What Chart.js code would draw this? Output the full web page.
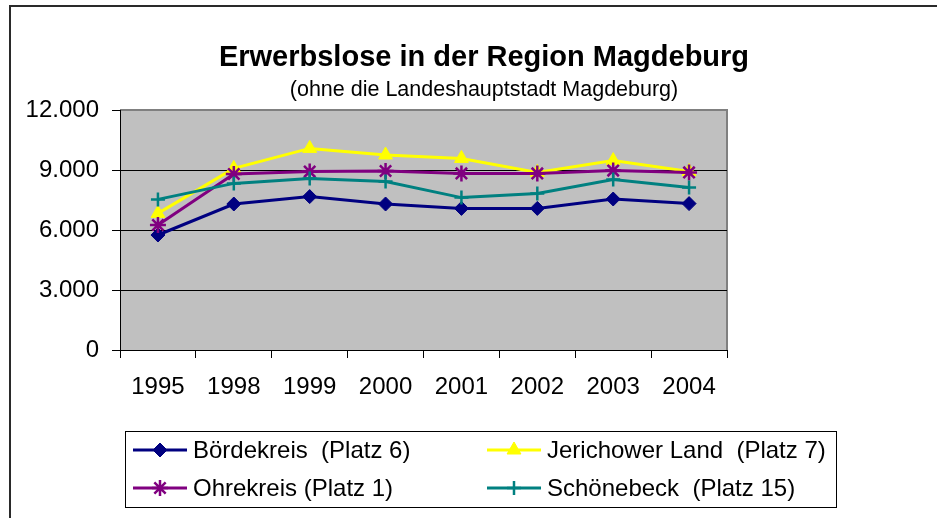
<!DOCTYPE html>
<html>
<head>
<meta charset="utf-8">
<script src="https://cdn.jsdelivr.net/npm/chart.js@4"></script>
<style>
  html, body { margin: 0; padding: 0; background: #ffffff; }
  #wrap { width: 937px; height: 518px; position: relative; }
</style>
</head>
<body>
<div id="wrap"><canvas id="c" width="937" height="518"></canvas></div>
<script>
// ---- data ----
const years = ['1995', '1998', '1999', '2000', '2001', '2002', '2003', '2004'];
const boerdekreis = [5750, 7300, 7670, 7300, 7080, 7080, 7550, 7320];
const jerichowerLand = [6830, 9080, 10080, 9750, 9580, 8880, 9470, 8920];
const ohrekreis = [6250, 8800, 8920, 8950, 8830, 8830, 8970, 8880];
const schoenebeck = [7530, 8330, 8580, 8420, 7620, 7830, 8530, 8130];
const seriesNames = ['Bördekreis  (Platz 6)', 'Jerichower Land  (Platz 7)', 'Ohrekreis (Platz 1)', 'Schönebeck  (Platz 15)'];
const yTicks = [0, 3000, 6000, 9000, 12000];
const titleText = 'Erwerbslose in der Region Magdeburg';
const subtitleText = '(ohne die Landeshauptstadt Magdeburg)';

const FONT = '"Liberation Sans", Arial, sans-serif';

function fmt(v) {
  return String(v).replace(/\B(?=(\d{3})+(?!\d))/g, '.');
}

const decorPlugin = {
  id: 'decor',
  beforeDraw(chart) {
    const ctx = chart.ctx;
    const a = chart.chartArea;
    ctx.save();
    ctx.fillStyle = '#ffffff';
    ctx.fillRect(0, 0, chart.width, chart.height);
    // outer frame (left and top visible)
    ctx.strokeStyle = '#2a2a2a';
    ctx.lineWidth = 2;
    ctx.beginPath();
    ctx.moveTo(10, chart.height);
    ctx.lineTo(10, 6);
    ctx.lineTo(chart.width, 6);
    ctx.stroke();
    // plot area
    ctx.fillStyle = '#c0c0c0';
    ctx.fillRect(a.left, a.top, a.right - a.left, a.bottom - a.top);
    ctx.strokeStyle = '#808080';
    ctx.lineWidth = 2;
    ctx.beginPath();
    ctx.moveTo(a.left, a.top);
    ctx.lineTo(a.right, a.top);
    ctx.lineTo(a.right, a.bottom);
    ctx.stroke();
    // title & subtitle
    ctx.fillStyle = '#000000';
    ctx.textAlign = 'center';
    ctx.textBaseline = 'middle';
    ctx.font = 'bold 29px ' + FONT;
    ctx.fillText(titleText, 484, 58);
    ctx.font = '21.5px ' + FONT;
    ctx.fillText(subtitleText, 484, 90);
    ctx.restore();
  },
  afterDraw(chart) {
    const ctx = chart.ctx;
    ctx.save();
    // legend box
    ctx.strokeStyle = '#000000';
    ctx.lineWidth = 1;
    ctx.strokeRect(125.5, 431.5, 711, 76);
    const cols = [133, 487];
    const rows = [450, 488];
    chart.data.datasets.forEach((ds, i) => {
      const x0 = cols[i % 2];
      const y = rows[Math.floor(i / 2)];
      ctx.strokeStyle = ds.borderColor;
      ctx.lineWidth = ds.borderWidth;
      ctx.beginPath();
      ctx.moveTo(x0, y);
      ctx.lineTo(x0 + 54, y);
      ctx.stroke();
      ctx.fillStyle = ds.pointBackgroundColor;
      ctx.strokeStyle = ds.pointBorderColor;
      ctx.lineWidth = ds.pointBorderWidth;
      Chart.helpers.drawPoint(ctx, {
        pointStyle: ds.pointStyle,
        radius: ds.pointRadius,
        rotation: 0,
        borderWidth: ds.pointBorderWidth
      }, x0 + 27, y);
      ctx.fillStyle = '#000000';
      ctx.font = '24px ' + FONT;
      ctx.textAlign = 'left';
      ctx.textBaseline = 'middle';
      ctx.fillText(ds.label, x0 + 60, y + 1);
    });
    ctx.restore();
  }
};

const datasets = [
  { label: seriesNames[0], data: boerdekreis, color: '#000080', style: 'rectRot', r: 7, order: 4 },
  { label: seriesNames[1], data: jerichowerLand, color: '#ffff00', style: 'triangle', r: 8, order: 3 },
  { label: seriesNames[2], data: ohrekreis, color: '#800080', style: 'star', r: 8, order: 2 },
  { label: seriesNames[3], data: schoenebeck, color: '#008080', style: 'cross', r: 7, order: 1 }
].map(s => ({
  label: s.label,
  data: s.data,
  order: s.order,
  borderColor: s.color,
  backgroundColor: s.color,
  borderWidth: 3,
  pointStyle: s.style,
  pointRadius: s.r,
  pointHoverRadius: s.r,
  pointBackgroundColor: s.color,
  pointBorderColor: s.color,
  pointBorderWidth: (s.style === 'star' || s.style === 'cross') ? 2.5 : 1,
  tension: 0,
  fill: false
}));

new Chart(document.getElementById('c'), {
  type: 'line',
  data: { labels: years, datasets: datasets },
  options: {
    responsive: false,
    animation: false,
    events: [],
    layout: { padding: { top: 110, left: 10, right: 210, bottom: 108 } },
    plugins: {
      legend: { display: false },
      title: { display: false },
      tooltip: { enabled: false }
    },
    scales: {
      x: {
        type: 'category',
        offset: true,
        grid: {
          offset: true,
          drawOnChartArea: false,
          drawTicks: true,
          tickLength: 8,
          tickColor: '#000000',
          color: '#000000'
        },
        border: { color: '#000000', width: 1 },
        ticks: {
          color: '#000000',
          font: { family: FONT, size: 24 },
          padding: 15,
          maxRotation: 0,
          autoSkip: false
        },
        afterFit(scale) { scale.height = 60; }
      },
      y: {
        min: 0,
        max: 12000,
        afterBuildTicks(scale) { scale.ticks = yTicks.map(v => ({ value: v })); },
        grid: {
          color: ctx => (ctx.tick && ctx.tick.value === 12000) ? 'rgba(0,0,0,0)' : (ctx.tick && ctx.tick.value === 0 ? 'rgba(0,0,0,0)' : '#000000'),
          lineWidth: 1,
          tickLength: 8,
          tickColor: '#000000',
          drawTicks: true
        },
        border: { color: '#000000', width: 1 },
        ticks: {
          color: '#000000',
          font: { family: FONT, size: 24 },
          padding: 13,
          callback: v => fmt(v)
        },
        afterFit(scale) { scale.width = 110; }
      }
    }
  },
  plugins: [decorPlugin]
});
</script>
</body>
</html>
